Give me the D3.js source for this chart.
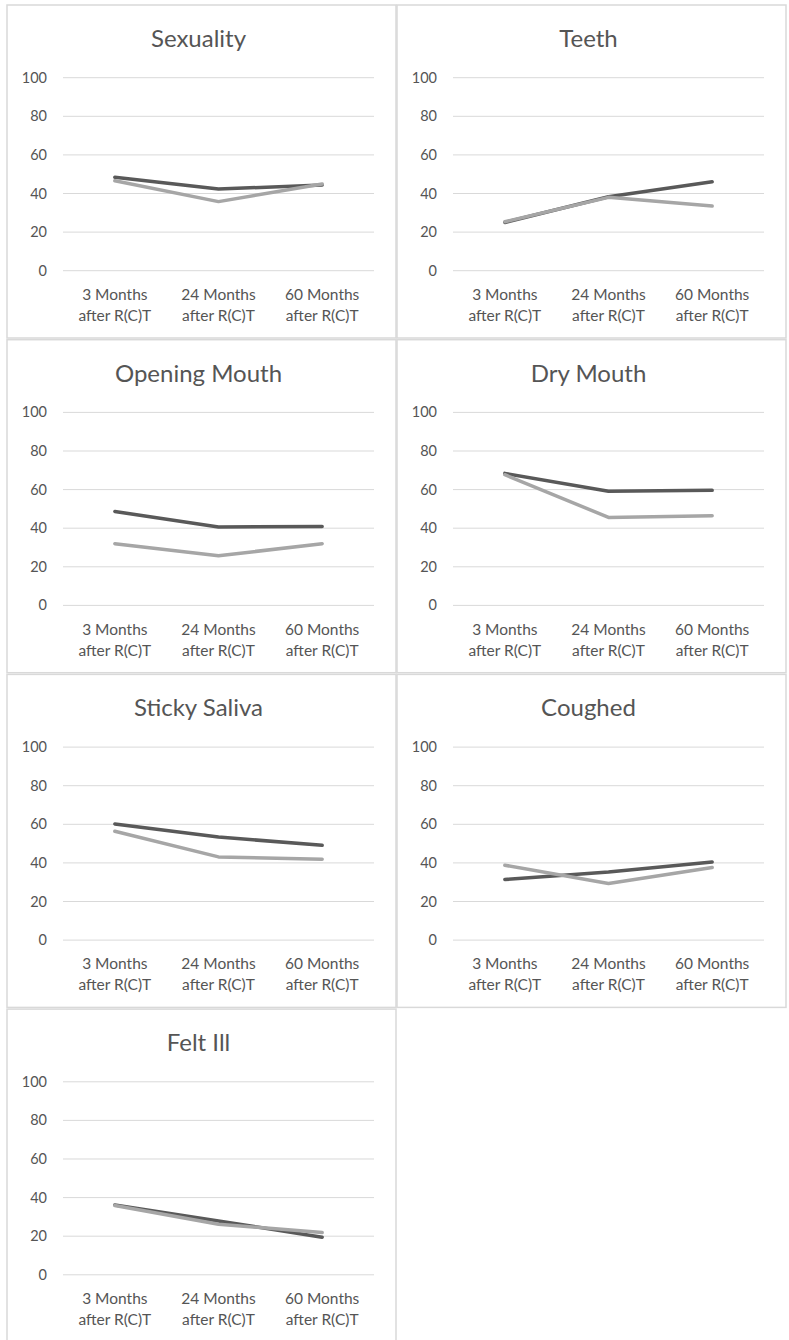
<!DOCTYPE html>
<html lang="en">
<head>
    <meta charset="UTF-8">
    <title>Quality of life panels</title>
    <script src="https://d3js.org/d3.v7.min.js"></script>
    <style>
        body { margin: 0; background: #fff; }
        text { font-family: Lato, "Open Sans", sans-serif; fill: #555; }
    </style>
</head>
<body>
<svg id="chart" width="789" height="1340"></svg>
<script>
const categories = ["3 Months|after R(C)T", "24 Months|after R(C)T", "60 Months|after R(C)T"];
const yTicks = [0, 20, 40, 60, 80, 100];

const titles = ["Sexuality", "Teeth", "Opening Mouth", "Dry Mouth", "Sticky Saliva", "Coughed", "Felt Ill"];

// dark series
const seriesA = [
  [48.4, 42.3, 44.4],
  [25.0, 38.3, 46.1],
  [48.7, 40.6, 40.9],
  [68.4, 59.1, 59.6],
  [60.2, 53.4, 49.1],
  [31.4, 35.3, 40.5],
  [36.2, 27.9, 19.5]
];
// light series
const seriesB = [
  [46.6, 35.8, 44.9],
  [25.4, 38.0, 33.5],
  [32.0, 25.7, 32.0],
  [67.7, 45.6, 46.5],
  [56.4, 43.1, 41.9],
  [38.8, 29.3, 37.6],
  [35.9, 26.2, 21.9]
];

const colors = ["#595959", "#a6a6a6"];

const svg = d3.select("#chart");

const panelW = 389, panelH = 333;
const colX = [7, 397];
const rowStep = 334.7, rowTop = 5;
const plot = { left: 56, right: 367, top: 72.7, bottom: 265.7 };

const x = d3.scaleBand()
  .domain(categories)
  .range([plot.left, plot.right]);

const y = d3.scaleLinear()
  .domain([0, 100])
  .range([plot.bottom, plot.top]);

const line = d3.line()
  .x((d, i) => x(categories[i]) + x.bandwidth() / 2)
  .y(d => y(d));

titles.forEach((title, k) => {
  const g = svg.append("g")
    .attr("transform", `translate(${colX[k % 2]},${rowTop + Math.floor(k / 2) * rowStep})`);

  g.append("rect")
    .attr("width", panelW)
    .attr("height", panelH)
    .attr("fill", "#fff")
    .attr("stroke", "#d9d9d9")
    .attr("stroke-width", 1.5);

  g.append("text")
    .attr("x", panelW / 2 - 3)
    .attr("y", 42)
    .attr("text-anchor", "middle")
    .style("font-size", "24px")
    .text(title);

  // gridlines
  g.append("g")
    .selectAll("line")
    .data(yTicks)
    .join("line")
    .attr("x1", plot.left)
    .attr("x2", plot.right)
    .attr("y1", d => y(d))
    .attr("y2", d => y(d))
    .attr("stroke", "#d9d9d9")
    .attr("stroke-width", 1);

  // y labels
  g.append("g")
    .selectAll("text")
    .data(yTicks)
    .join("text")
    .attr("x", 40)
    .attr("y", d => y(d))
    .attr("dy", "0.35em")
    .attr("text-anchor", "end")
    .style("font-size", "14.5px")
    .text(d => d);

  // x labels
  const xl = g.append("g")
    .selectAll("text")
    .data(categories)
    .join("text")
    .attr("text-anchor", "middle")
    .style("font-size", "15.5px");
  xl.append("tspan")
    .attr("x", d => x(d) + x.bandwidth() / 2)
    .attr("y", 295)
    .text(d => d.split("|")[0]);
  xl.append("tspan")
    .attr("x", d => x(d) + x.bandwidth() / 2)
    .attr("y", 316)
    .text(d => d.split("|")[1]);

  [seriesA[k], seriesB[k]].forEach((vals, s) => {
    g.append("path")
      .datum(vals)
      .attr("d", line)
      .attr("fill", "none")
      .attr("stroke", colors[s])
      .attr("stroke-width", 3.5)
      .attr("stroke-linecap", "round")
      .attr("stroke-linejoin", "round");
  });
});
</script>
</body>
</html>
